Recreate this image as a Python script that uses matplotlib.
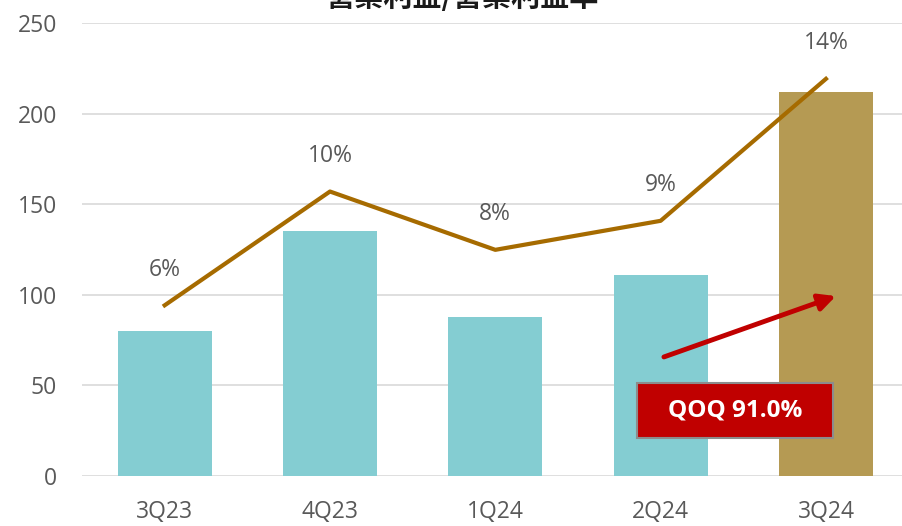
import matplotlib
matplotlib.use("Agg")
from matplotlib import pyplot as plt
from matplotlib.patches import Rectangle

plt.rcParams['font.family'] = ['Open Sans', 'Noto Sans CJK TC', 'DejaVu Sans']

# chart data
quarters = ['3Q23', '4Q23', '1Q24', '2Q24', '3Q24']
operating_income = [80, 135, 88, 111, 212]
operating_margin = [6.0, 10.0, 7.95, 8.97, 13.96]
margin_labels = ['6%', '10%', '8%', '9%', '14%']
qoq_label = 'QOQ 91.0%'

bar_colors = ['#84CDD2'] * 4 + ['#B59A53']
line_color = '#A66B00'
text_gray = '#595959'

fig = plt.figure(figsize=(9.02, 5.26), dpi=100)
ax = fig.add_axes([82 / 902, 50 / 526, 820 / 902, 453 / 526])

x = list(range(len(quarters)))
ax.bar(x, operating_income, width=0.57, color=bar_colors, zorder=2)

ax.set_xlim(-0.5, 4.46)
ax.set_ylim(0, 250)
ax.set_yticks([0, 50, 100, 150, 200, 250])
ax.set_xticks(x)
ax.set_xticklabels(quarters)
ax.tick_params(axis='both', length=0, labelsize=16.5, colors=text_gray)
ax.tick_params(axis='x', pad=17)
ax.tick_params(axis='y', pad=18)
ax.yaxis.grid(True, color='#D9D9D9', linewidth=1.2, zorder=0)
ax.set_axisbelow(True)
for s in ax.spines.values():
    s.set_visible(False)

# margin line on hidden secondary axis
ax2 = ax.twinx()
ax2.set_ylim(0, 250 / 15.7)
ax2.plot(x, operating_margin, color=line_color, linewidth=3, zorder=3)
ax2.axis('off')
for xi, m, lab in zip(x, operating_margin, margin_labels):
    ax2.annotate(lab, (xi, m), xytext=(0, 25.5), textcoords='offset points',
                 ha='center', va='center', fontsize=16.5, color=text_gray)

# QOQ arrow and box
ax.annotate('', xy=(4.06, 99.3), xytext=(3.02, 65.7),
            arrowprops=dict(arrowstyle='-|>,head_length=1.0,head_width=0.5',
                            color='#C00000', lw=3.5, shrinkA=0, shrinkB=0),
            zorder=5)
ax.add_patch(Rectangle((2.855, 21), 1.19, 30.3, facecolor='#C00000',
                       edgecolor='#8C8C8C', linewidth=1.5, zorder=5))
ax.text(3.45, 36, qoq_label, ha='center', va='center', fontsize=17.5,
        fontweight='bold', color='white', zorder=6)

fig.text(0.513, 1 - 12 / 526, '營業利益/營業利益率', ha='center', va='bottom',
         fontsize=21, fontweight='bold', color='#1a1a1a',
         family=['Noto Sans CJK TC'])

fig.savefig('out.png', dpi=100)
